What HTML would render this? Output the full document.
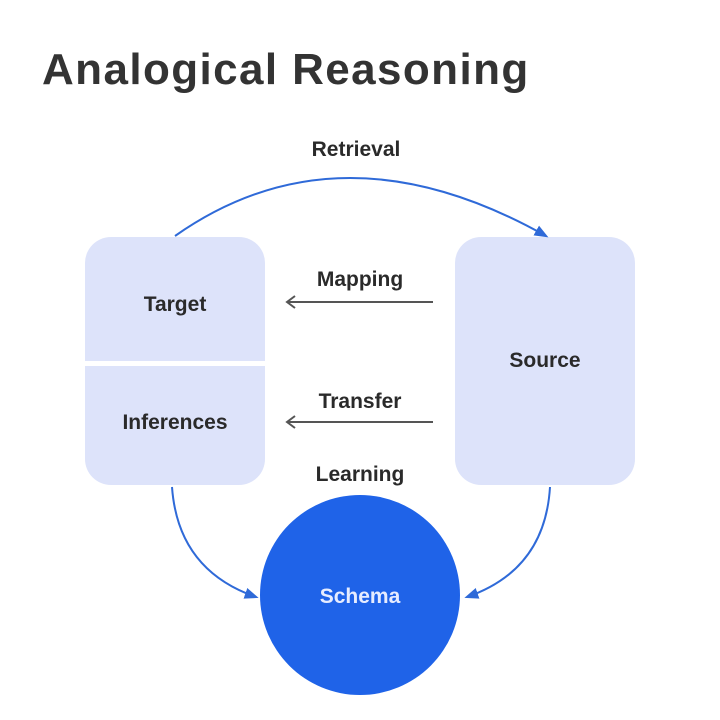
<!DOCTYPE html>
<html><head><meta charset="utf-8"><style>
body{margin:0;background:#fff;width:720px;height:720px;overflow:hidden;font-family:"Liberation Sans",sans-serif}
svg{position:absolute;left:0;top:0}
</style></head><body>
<svg width="720" height="720" viewBox="0 0 720 720">
<defs>
<marker id="b" viewBox="0 0 10 10" refX="8" refY="5" markerWidth="7" markerHeight="7" orient="auto"><path d="M0,1 L10,5 L0,9 z" fill="#2f6ad8"/></marker>
</defs>
<text x="42" y="84" font-size="44" font-weight="bold" fill="#333" letter-spacing="1.4">Analogical Reasoning</text>
<rect x="85" y="237" width="180" height="248" rx="26" fill="#dde3fa"/>
<rect x="85" y="361" width="180" height="5" fill="#fff"/>
<rect x="455" y="237" width="180" height="248" rx="26" fill="#dde3fa"/>
<circle cx="360" cy="595" r="100" fill="#1f63e8"/>
<g font-size="21" font-weight="bold" fill="#2a2a2a" text-anchor="middle">
<text x="356" y="156">Retrieval</text>
<text x="360" y="286">Mapping</text>
<text x="360" y="408">Transfer</text>
<text x="360" y="481">Learning</text>
<text x="175" y="311">Target</text>
<text x="175" y="429">Inferences</text>
<text x="545" y="367">Source</text>
<text x="360" y="603" fill="#e6ecff">Schema</text>
</g>
<path d="M175,236 Q340,120 546,236" fill="none" stroke="#2f6ad8" stroke-width="2" marker-end="url(#b)"/>
<path d="M172,487 Q178,570 256,597" fill="none" stroke="#2f6ad8" stroke-width="2" marker-end="url(#b)"/>
<path d="M550,487 Q545,570 467,597" fill="none" stroke="#2f6ad8" stroke-width="2" marker-end="url(#b)"/>
<g stroke="#555" stroke-width="2" fill="none">
<path d="M433,302 H287 M295,296 L287,302 L295,308"/>
<path d="M433,422 H287 M295,416 L287,422 L295,428"/>
</g>
</svg>
</body></html>
